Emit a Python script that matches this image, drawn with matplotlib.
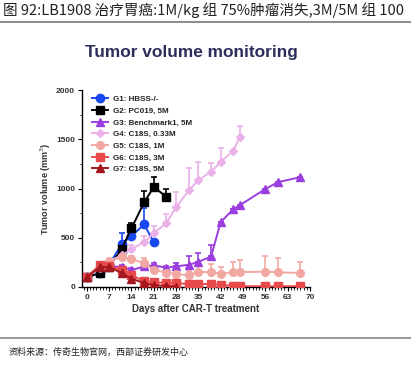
import matplotlib
matplotlib.use("Agg")
import matplotlib.pyplot as plt
from matplotlib.ticker import MultipleLocator

plt.rcParams['font.family'] = ['Liberation Sans', 'Noto Sans CJK SC', 'DejaVu Sans']

# G1 HBSS-/-
g1_days = [0, 4, 7, 11, 14, 18, 21]
g1_vals = [100, 140, 225, 440, 518, 635, 455]
g1_err = [15, 20, 30, 110, 50, 165, 0]
# G2 PC019, 5M
g2_days = [0, 4, 7, 11, 14, 18, 21, 25]
g2_vals = [100, 140, 205, 390, 595, 860, 1015, 915]
g2_err = [10, 15, 20, 30, 55, 110, 105, 75]
# G3 Benchmark1, 5M
g3_days = [0, 4, 7, 11, 14, 18, 21, 25, 28, 32, 35, 39, 42, 46, 48, 56, 60, 67]
g3_vals = [100, 205, 210, 205, 170, 210, 220, 195, 210, 225, 255, 310, 660, 790, 830, 995, 1065, 1115]
g3_err = [10, 15, 20, 20, 20, 20, 25, 20, 35, 90, 90, 120, 0, 0, 0, 0, 0, 0]
# G4 C18S, 0.33M
g4_days = [0, 4, 7, 11, 14, 18, 21, 25, 28, 32, 35, 39, 42, 46, 48]
g4_vals = [100, 190, 265, 320, 385, 455, 545, 650, 810, 980, 1085, 1170, 1270, 1385, 1525]
g4_err = [10, 15, 20, 30, 40, 60, 70, 90, 150, 230, 180, 90, 140, 0, 110]
# G5 C18S, 1M
g5_days = [0, 4, 7, 11, 14, 18, 21, 25, 28, 32, 35, 39, 42, 46, 48, 56, 60, 67]
g5_vals = [100, 210, 260, 305, 285, 240, 175, 145, 130, 120, 152, 152, 135, 152, 152, 155, 150, 142]
g5_err = [10, 15, 20, 20, 30, 50, 50, 60, 50, 40, 80, 80, 65, 105, 120, 160, 140, 115]
# G6 C18S, 3M
g6_days = [0, 4, 7, 11, 14, 18, 21, 25, 28, 32, 35, 39, 42, 46, 48, 56, 60, 67]
g6_vals = [100, 220, 215, 170, 120, 60, 50, 40, 40, 30, 30, 30, 20, 12, 8, 8, 8, 8]
# G7 C18S, 5M
g7_days = [0, 4, 7, 11, 14, 18, 21, 25, 28]
g7_vals = [100, 200, 205, 140, 85, 40, 20, 10, 5]

labels = ['G1: HBSS-/-', 'G2: PC019, 5M', 'G3: Benchmark1, 5M', 'G4: C18S, 0.33M',
          'G5: C18S, 1M', 'G6: C18S, 3M', 'G7: C18S, 5M']
colors = ['#1848f0', '#000000', '#9a3ee0', '#eab2e8', '#f2a8a2', '#e84a4c', '#a3171d']

fig = plt.figure(figsize=(4.11, 3.65), dpi=100)
ax = fig.add_axes([0.1995, 0.2137, 0.5547, 0.5397])

series = [
    (g1_days, g1_vals, g1_err, 'o', 6),
    (g2_days, g2_vals, g2_err, 's', 5.5),
    (g3_days, g3_vals, g3_err, '^', 5.5),
    (g4_days, g4_vals, g4_err, 'D', 3.8),
    (g5_days, g5_vals, g5_err, 'o', 5.5),
    (g6_days, g6_vals, None, 's', 5.5),
    (g7_days, g7_vals, None, '^', 5.5),
]
order = [6, 5, 4, 3, 2, 1, 0]
handles = [None] * 7
for i in order:
    d, v, e, m, ms = series[i]
    if e is not None:
        ax.errorbar(d, v, yerr=[[0] * len(e), e], fmt='none', ecolor=colors[i],
                    elinewidth=1.2, capsize=2.5, capthick=1.2, zorder=2 + i * 0.1)
    h, = ax.plot(d, v, color=colors[i], marker=m, markersize=ms, lw=1.4, zorder=3 + i * 0.1)
    handles[i] = h

ax.set_xlim(-1.5, 70)
ax.set_ylim(0, 2000)
ax.xaxis.set_major_locator(MultipleLocator(7))
ax.xaxis.set_minor_locator(MultipleLocator(1))
ax.yaxis.set_major_locator(MultipleLocator(500))
ax.yaxis.set_minor_locator(MultipleLocator(250))
for s in ['top', 'right']:
    ax.spines[s].set_visible(False)
for s in ['left', 'bottom']:
    ax.spines[s].set_linewidth(1.0)
ax.tick_params(axis='both', which='major', labelsize=6, length=3, width=0.8, pad=2)
ax.tick_params(axis='both', which='minor', length=1.8, width=0.6)
for t in ax.get_xticklabels() + ax.get_yticklabels():
    t.set_fontweight('bold')
    t.set_color('#333333')

ax.set_xlabel('Days after CAR-T treatment', fontsize=7, fontweight='bold', color='#333333', labelpad=2)
ax.set_ylabel('Tumor volume (mm$^3$)', fontsize=6.5, fontweight='bold', color='#333333', labelpad=2)

leg = ax.legend(handles, labels, loc='upper left', bbox_to_anchor=(0.02, 1.0), frameon=False,
                fontsize=5.8, handlelength=2.0, labelspacing=0.5, borderpad=0.2, handletextpad=0.6)
for t in leg.get_texts():
    t.set_fontweight('bold')
    t.set_color('#222222')

fig.text(0.465, 0.855, 'Tumor volume monitoring', fontsize=12.4, fontweight='bold',
         color='#2b2e5a', ha='center', va='center')

fig.text(0.008, 0.972, '图 92:LB1908 治疗胃癌:1M/kg 组 75%肿瘤消失,3M/5M 组 100',
         fontsize=10.5, ha='left', va='center', color='#222222',
         family=['Noto Sans CJK SC', 'DejaVu Sans'])
fig.add_artist(plt.Line2D([0, 1], [0.94, 0.94], color='#777777', lw=1.2, transform=fig.transFigure))
fig.add_artist(plt.Line2D([0, 1], [0.073, 0.073], color='#888888', lw=1.2, transform=fig.transFigure))
fig.text(0.02, 0.035, '资料来源：传奇生物官网，西部证券研发中心', fontsize=6.5, ha='left', va='center',
         color='#222222', family=['Noto Sans CJK SC', 'DejaVu Sans'])

fig.savefig('out.png', dpi=100)
